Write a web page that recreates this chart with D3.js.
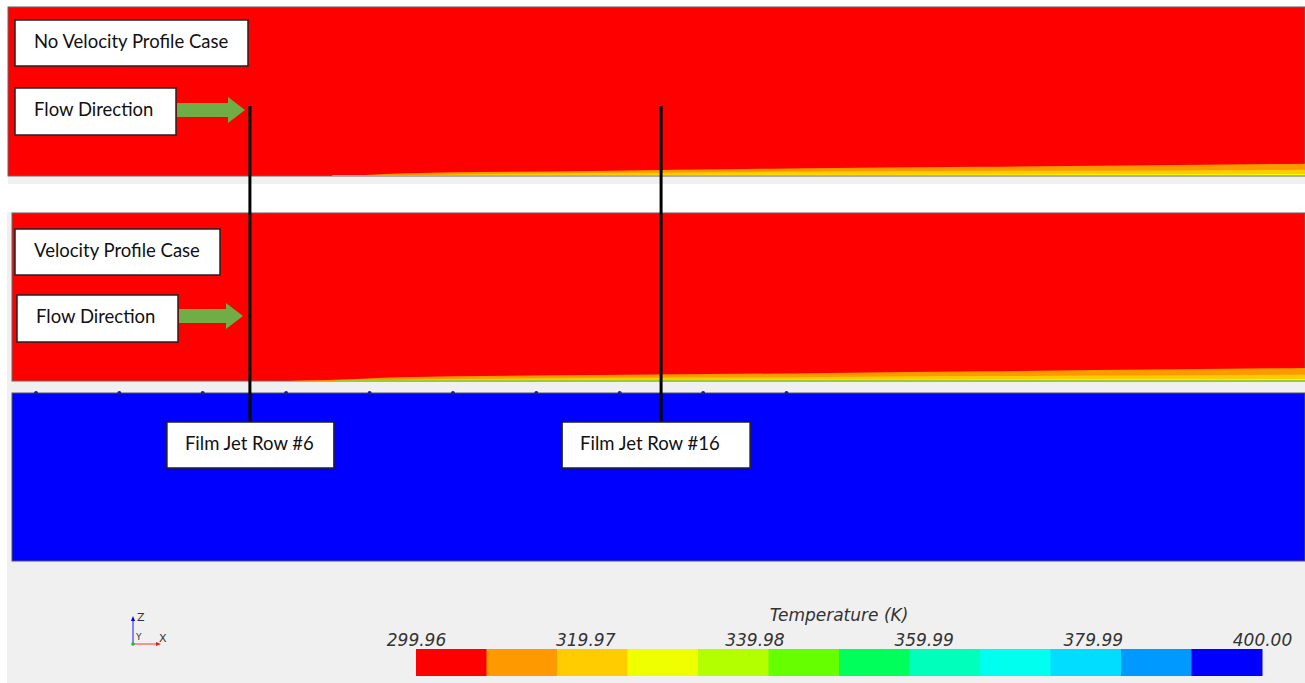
<!DOCTYPE html>
<html>
<head>
<meta charset="utf-8">
<script src="https://cdnjs.cloudflare.com/ajax/libs/d3/7.8.5/d3.min.js"></script>
<style>
  body { margin: 0; background: #fff; }
  svg { display: block; }
</style>
</head>
<body>
<svg></svg>
<script>
// temperature legend
const tempMin = 299.96, tempMax = 400.00;
const tickValues = [299.96, 319.97, 339.98, 359.99, 379.99, 400.00];
const bandColors = ['#ff0000', '#ff9900', '#ffcc00', '#f0ff00', '#b3ff00', '#66ff00',
  '#00ff5a', '#00ffbb', '#00ffee', '#00ddff', '#0099ff', '#0000ff'];

// hot layer along the wall: axial station x/L vs band thickness (mm)
const axialPos   = [0, 0.20, 0.25, 0.30, 0.45, 0.60, 0.75, 0.90, 1.00];
const noVpBand1  = [0, 0, 0, 0.30, 0.60, 0.90, 1.10, 1.30, 1.45];
const noVpBand2  = [0, 0, 0, 0.10, 0.35, 0.50, 0.60, 0.65, 0.75];
const noVpBand3  = [0, 0, 0, 0, 0.08, 0.14, 0.18, 0.20, 0.24];
const vpBand1    = [0, 0, 0.15, 0.45, 0.70, 0.90, 1.15, 1.40, 1.55];
const vpBand2    = [0, 0, 0, 0.15, 0.35, 0.45, 0.58, 0.68, 0.75];
const vpBand3    = [0, 0, 0, 0, 0.08, 0.14, 0.18, 0.20, 0.24];

// film jet rows (x/L) and hole markers on the coolant side
const jetRows = ['Film Jet Row #6', 'Film Jet Row #16'];
const jetRowPos = [0.184, 0.502];
const holePos = [0.0186, 0.0830, 0.1475, 0.2120, 0.2766, 0.3410, 0.4055, 0.4700, 0.5345, 0.5990];

const [svgWidth, svgHeight] = [1305, 683];
const channelHeight = 20; // mm shown by one panel
const labelFont = 18.5;
const svg = d3.select('svg')
  .attr('width', svgWidth)
  .attr('height', svgHeight)
  .style('font-family', 'Lato, "Open Sans", sans-serif');

svg.append('rect')
  .attr('width', svgWidth).attr('height', svgHeight).attr('fill', '#fff');
// screenshot backgrounds
svg.append('rect')
  .attr('x', 8).attr('y', 6).attr('width', 1297).attr('height', 178).attr('fill', '#f0f0f0');
svg.append('rect')
  .attr('x', 8).attr('y', 184).attr('width', 1297).attr('height', 28).attr('fill', '#fff');
svg.append('rect')
  .attr('x', 7).attr('y', 212).attr('width', 1298).attr('height', 471).attr('fill', '#f0f0f0');

const panels = [
  { x0: 8, x1: 1305, y0: 7, y1: 176, bands: [noVpBand1, noVpBand2, noVpBand3] },
  { x0: 12, x1: 1305, y0: 213, y1: 381, bands: [vpBand1, vpBand2, vpBand3] }
];

const thick = d3.scaleLinear().domain([0, channelHeight]).range([0, 169]);

panels.forEach(p => {
  const g = svg.append('g');
  g.append('rect')
    .attr('x', p.x0).attr('y', p.y0)
    .attr('width', p.x1 - p.x0).attr('height', p.y1 - p.y0)
    .attr('fill', bandColors[0])
    .attr('stroke', '#666').attr('stroke-width', 1);
  const x = d3.scaleLinear().domain([0, 1]).range([p.x0, p.x1]);
  p.bands.forEach((band, i) => {
    const area = d3.area()
      .x((d, j) => x(axialPos[j]))
      .y0(p.y1)
      .y1(d => p.y1 - thick(d))
      .curve(d3.curveMonotoneX);
    g.append('path')
      .datum(band)
      .attr('d', area)
      .attr('fill', bandColors[i + 1]);
  });
  g.append('line')
    .attr('x1', x(axialPos[2])).attr('x2', p.x1)
    .attr('y1', p.y1 - 0.5).attr('y2', p.y1 - 0.5)
    .attr('stroke', '#9acd32').attr('stroke-width', 1);
});

// coolant plenum
const blue = { x0: 12, x1: 1305, y0: 393, y1: 561 };
const xBlue = d3.scaleLinear().domain([0, 1]).range([blue.x0, blue.x1]);
svg.append('rect')
  .attr('x', blue.x0).attr('y', blue.y0)
  .attr('width', blue.x1 - blue.x0).attr('height', blue.y1 - blue.y0)
  .attr('fill', bandColors[11])
  .attr('stroke', '#555').attr('stroke-width', 1);
svg.selectAll('.hole')
  .data(holePos)
  .enter()
  .append('circle')
  .attr('cx', d => xBlue(d))
  .attr('cy', blue.y0)
  .attr('r', 2)
  .attr('fill', '#1a1aa0');

// jet row lines + labels
const rowBoxes = [{ dx: -83, w: 167 }, { dx: -99, w: 188 }];
jetRowPos.forEach((pos, i) => {
  const lx = xBlue(pos);
  svg.append('line')
    .attr('x1', lx).attr('x2', lx)
    .attr('y1', 106).attr('y2', 422)
    .attr('stroke', '#000').attr('stroke-width', 3);
  const b = rowBoxes[i];
  svg.append('rect')
    .attr('x', lx + b.dx).attr('y', 422)
    .attr('width', b.w).attr('height', 46)
    .attr('fill', '#fff').attr('stroke', '#222').attr('stroke-width', 1.5);
  svg.append('text')
    .attr('x', lx + b.dx + 18).attr('y', 443)
    .attr('dominant-baseline', 'central')
    .attr('font-size', labelFont).attr('fill', '#111')
    .text(jetRows[i]);
});

// case labels and flow arrows
const boxes = [
  { text: 'No Velocity Profile Case', x: 15, y: 20, w: 233, h: 46 },
  { text: 'Flow Direction', x: 15, y: 88, w: 161, h: 47 },
  { text: 'Velocity Profile Case', x: 15, y: 229, w: 205, h: 46 },
  { text: 'Flow Direction', x: 17, y: 295, w: 161, h: 47 }
];
boxes.forEach(b => {
  svg.append('rect')
    .attr('x', b.x).attr('y', b.y).attr('width', b.w).attr('height', b.h)
    .attr('fill', '#fff').attr('stroke', '#222').attr('stroke-width', 1.5);
  svg.append('text')
    .attr('x', b.x + 19).attr('y', b.y + b.h / 2 - 2.5)
    .attr('dominant-baseline', 'central')
    .attr('font-size', labelFont).attr('fill', '#111')
    .text(b.text);
});

const arrows = [{ x0: 177, x1: 245, cy: 110 }, { x0: 179, x1: 243, cy: 316 }];
arrows.forEach(a => {
  const hl = 17, bh = 7, hh = 13;
  svg.append('path')
    .attr('d', `M${a.x0},${a.cy - bh} H${a.x1 - hl} V${a.cy - hh} L${a.x1},${a.cy} L${a.x1 - hl},${a.cy + hh} V${a.cy + bh} H${a.x0} Z`)
    .attr('fill', '#70ad47');
});

// axis triad
const triad = svg.append('g').attr('transform', 'translate(133,644)');
triad.append('line').attr('x1', 0).attr('y1', 0).attr('x2', 0).attr('y2', -24)
  .attr('stroke', '#3b3bff').attr('stroke-width', 1.2);
triad.append('path').attr('d', 'M-2,-23 L0,-28 L2,-23 Z').attr('fill', '#0000cc');
triad.append('line').attr('x1', 0).attr('y1', 0).attr('x2', 24).attr('y2', 0)
  .attr('stroke', '#ff5555').attr('stroke-width', 1.2);
triad.append('path').attr('d', 'M23,-2 L28,0 L23,2 Z').attr('fill', '#dd2222');
triad.append('circle').attr('r', 1.8).attr('fill', '#22bb22');
triad.selectAll('text')
  .data([['Z', 4, -23, 11], ['Y', 3, -4, 9], ['X', 26, -2, 11]])
  .enter()
  .append('text')
  .attr('x', d => d[1]).attr('y', d => d[2])
  .attr('font-family', '"DejaVu Sans", sans-serif')
  .attr('font-size', d => d[3])
  .attr('fill', '#333')
  .text(d => d[0]);

// temperature colour bar
const legendScale = d3.scaleLinear().domain([tempMin, tempMax]).range([416, 1262]);
const step = (tempMax - tempMin) / bandColors.length;
const legend = svg.append('g');
legend.selectAll('rect')
  .data(bandColors)
  .enter()
  .append('rect')
  .attr('x', (d, i) => legendScale(tempMin + i * step))
  .attr('y', 649)
  .attr('width', legendScale(tempMin + step) - legendScale(tempMin) + 0.5)
  .attr('height', 27)
  .attr('fill', d => d);

const legendAxis = d3.axisTop(legendScale)
  .tickValues(tickValues)
  .tickSize(0)
  .tickPadding(3)
  .tickFormat(d3.format('.2f'));
const axisG = legend.append('g')
  .attr('transform', 'translate(0,649)')
  .call(legendAxis);
axisG.select('.domain').remove();
axisG.selectAll('text')
  .attr('font-family', '"DejaVu Sans", sans-serif')
  .attr('font-style', 'italic')
  .attr('font-size', 17)
  .attr('fill', '#333');

legend.append('text')
  .attr('x', (legendScale.range()[0] + legendScale.range()[1]) / 2)
  .attr('y', 621)
  .attr('text-anchor', 'middle')
  .attr('font-family', '"DejaVu Sans", sans-serif')
  .attr('font-style', 'italic')
  .attr('font-size', 17)
  .attr('fill', '#333')
  .text('Temperature (K)');
</script>
</body>
</html>
